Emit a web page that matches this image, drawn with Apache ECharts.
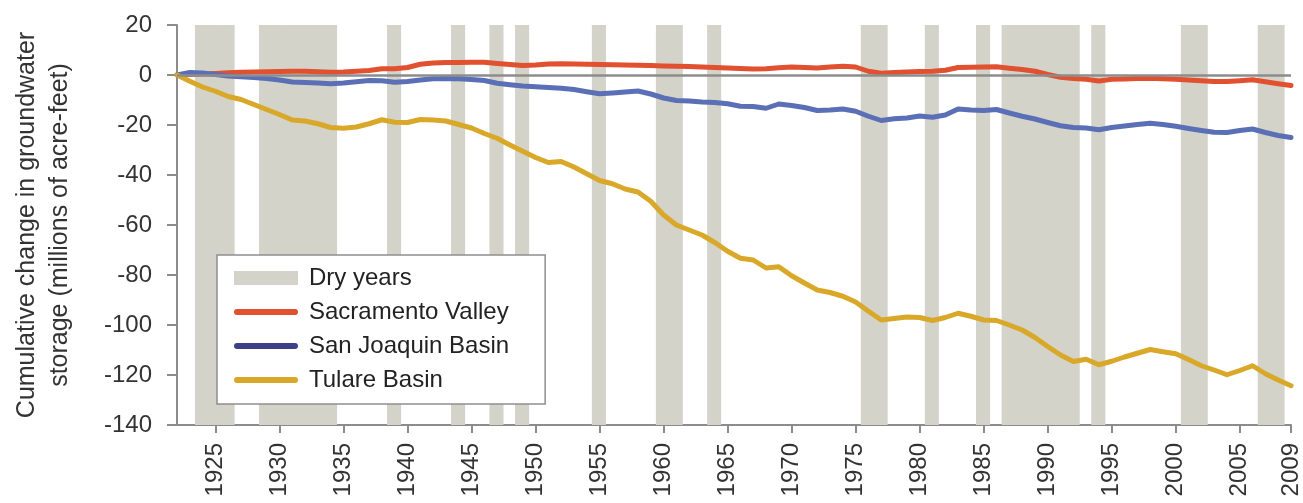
<!DOCTYPE html>
<html>
<head>
<meta charset="utf-8">
<script src="https://cdn.jsdelivr.net/npm/echarts@6/dist/echarts.min.js"></script>
<style>
html,body{margin:0;padding:0;background:#fff;}
#chart{width:1303px;height:503px;}
</style>
</head>
<body>
<div id="chart"></div>
<script>
// ---- Data (millions of acre-feet, cumulative change) ----
const years = [];
for (let y = 1922; y <= 2009; y++) years.push(y);

const sacramento = [
  0, 0.2, 0.4, 0.6, 0.9, 1.1, 1.2, 1.3, 1.4, 1.5,
  1.5, 1.3, 1.1, 1.2, 1.5, 1.8, 2.5, 2.5, 3.0, 4.3,
  4.8, 5.0, 5.0, 5.1, 5.1, 4.6, 4.2, 3.8, 4.0, 4.4,
  4.5, 4.4, 4.3, 4.2, 4.1, 4.0, 3.9, 3.8, 3.6, 3.5,
  3.4, 3.2, 3.0, 2.8, 2.6, 2.4, 2.5, 2.9, 3.2, 3.0,
  2.8, 3.2, 3.5, 3.2, 1.5, 0.7, 1.0, 1.2, 1.4, 1.5,
  1.9, 3.0, 3.1, 3.2, 3.3, 2.7, 2.2, 1.5, 0.2, -0.9,
  -1.4, -1.7, -2.4, -1.7, -1.6, -1.4, -1.3, -1.5, -1.7, -2.0,
  -2.3, -2.6, -2.6, -2.3, -1.9, -2.7, -3.5, -4.2
];

const sanJoaquin = [
  0, 1.0, 0.8, 0.2, -0.4, -0.7, -1.0, -1.4, -2.0, -2.8,
  -3.0, -3.2, -3.5, -3.2, -2.7, -2.2, -2.3, -2.9, -2.6, -2.0,
  -1.5, -1.4, -1.5, -1.8, -2.2, -3.3, -3.9, -4.4, -4.7, -5.0,
  -5.3, -5.8, -6.7, -7.5, -7.2, -6.8, -6.4, -7.6, -9.2, -10.2,
  -10.4, -10.8, -11.0, -11.5, -12.5, -12.6, -13.3, -11.6, -12.2, -13.0,
  -14.2, -14.0, -13.6, -14.5, -16.5, -18.2, -17.5, -17.2, -16.4, -16.9,
  -16.0, -13.6, -14.0, -14.2, -13.8, -15.2, -16.5, -17.6, -19.0, -20.3,
  -21.0, -21.2, -21.9, -21.0, -20.4, -19.8, -19.3, -19.8, -20.5, -21.4,
  -22.2, -22.9, -23.0, -22.2, -21.6, -23.0, -24.2, -25.0
];

const tulare = [
  0, -2.5, -4.8, -6.5, -8.6, -9.8, -11.8, -13.8, -15.8, -18.0,
  -18.4, -19.5, -21.0, -21.3, -20.8, -19.5, -17.9, -18.9, -19.0, -17.8,
  -18.0, -18.4, -19.8, -21.2, -23.4, -25.3, -28.0, -30.5, -33.0, -35.0,
  -34.6, -36.8, -39.5, -42.2, -43.5, -45.6, -46.8, -50.5, -56.0, -60.0,
  -62.0, -64.0, -67.0, -70.5, -73.3, -74.0, -77.2, -76.7, -80.3, -83.2,
  -86.0, -87.0, -88.5, -90.8, -94.5, -98.0, -97.4, -96.8, -97.0, -98.2,
  -97.0, -95.3, -96.5, -98.0, -98.2, -100.0, -102.0, -105.0, -108.6, -112.0,
  -114.6, -113.7, -115.9, -114.5, -112.8, -111.3, -109.8, -110.7, -111.5, -113.8,
  -116.3, -118.0, -119.9, -118.2, -116.3, -119.5, -122.0, -124.3
];

const dryYears = [
  1924, 1925, 1926, 1929, 1930, 1931, 1932, 1933, 1934, 1939, 1944, 1947, 1949,
  1955, 1960, 1961, 1964, 1976, 1977, 1981, 1985, 1987, 1988, 1989, 1990, 1991,
  1992, 1994, 2001, 2002, 2007, 2008
];

const xTickLabels = [1925, 1930, 1935, 1940, 1945, 1950, 1955, 1960, 1965, 1970,
  1975, 1980, 1985, 1990, 1995, 2000, 2005, 2009];

const seriesNames = ['Dry years', 'Sacramento Valley', 'San Joaquin Basin', 'Tulare Basin'];

// ---- Styling ----
const FONT = "'Liberation Sans', Arial, Helvetica, sans-serif";
const TXT = '#333333';
const AXIS = '#8c8c8c';
const DRY = '#d3d3ca';
const RED = '#e1502f';
const BLUE = '#5b6fb6';
const BLUE_LEG = '#3d4088';
const GOLD = '#d9a828';
const lineIcon = 'path://M3,0H61A3,3,0,0,1,61,6H3A3,3,0,0,1,3,0Z';

const pair = (arr) => years.map((y, i) => [y, arr[i]]);

const chart = echarts.init(document.getElementById('chart'), null, {renderer: 'canvas'});
chart.setOption({
  animation: false,
  backgroundColor: '#ffffff',
  textStyle: {fontFamily: FONT},
  grid: {left: 177, right: 11, top: 25, bottom: 78, containLabel: false},
  legend: {
    orient: 'vertical',
    left: 217,
    top: 255,
    padding: [11, 36, 12, 17],
    itemWidth: 64,
    itemHeight: 14,
    itemGap: 10,
    backgroundColor: '#ffffff',
    borderColor: '#8f8f8f',
    borderWidth: 1.5,
    textStyle: {fontSize: 24, color: '#222', fontFamily: FONT, lineHeight: 24, padding: [0, 0, 0, 6]},
    data: [
      {name: seriesNames[0], icon: 'rect', itemStyle: {color: DRY}},
      {name: seriesNames[1], icon: lineIcon, itemStyle: {color: RED}},
      {name: seriesNames[2], icon: lineIcon, itemStyle: {color: BLUE_LEG}},
      {name: seriesNames[3], icon: lineIcon, itemStyle: {color: GOLD}}
    ]
  },
  xAxis: {
    type: 'value',
    min: 1922,
    max: 2009,
    axisLine: {onZero: false, lineStyle: {color: AXIS, width: 2}},
    axisTick: {show: true, customValues: xTickLabels, length: 8, lineStyle: {color: AXIS, width: 2}},
    axisLabel: {
      customValues: xTickLabels,
      rotate: 90,
      margin: 18,
      fontSize: 24,
      color: TXT,
      fontFamily: FONT,
      formatter: (v) => String(v)
    },
    splitLine: {show: false}
  },
  yAxis: {
    type: 'value',
    min: -140,
    max: 20,
    interval: 20,
    name: 'Cumulative change in groundwater\nstorage (millions of acre-feet)',
    nameLocation: 'middle',
    nameGap: 100,
    nameTextStyle: {fontSize: 25, lineHeight: 33, color: TXT, fontFamily: FONT},
    axisLine: {show: true, lineStyle: {color: AXIS, width: 2}},
    axisTick: {show: true, length: 10, lineStyle: {color: AXIS, width: 2}},
    axisLabel: {fontSize: 24, color: TXT, margin: 25, fontFamily: FONT, padding: [0, 0, 5, 0]},
    splitLine: {show: false}
  },
  series: [
    {
      name: seriesNames[0],
      type: 'custom',
      data: dryYears.map((y) => [y]),
      encode: {x: 0},
      itemStyle: {color: DRY},
      silent: true,
      z: 1,
      renderItem: function (params, api) {
        const yr = api.value(0);
        const p0 = api.coord([yr - 0.6, 20]);
        const p1 = api.coord([yr + 0.5, -140]);
        return {
          type: 'rect',
          shape: {x: p0[0], y: p0[1], width: p1[0] - p0[0], height: p1[1] - p0[1]},
          style: {fill: DRY}
        };
      },
      markLine: {
        silent: true,
        symbol: ['none', 'none'],
        label: {show: false},
        lineStyle: {color: AXIS, width: 2.5, type: 'solid'},
        data: [{yAxis: 0}]
      }
    },
    {
      name: seriesNames[1],
      type: 'line',
      data: pair(sacramento),
      symbol: 'none',
      z: 3,
      lineStyle: {color: RED, width: 5, join: 'round', cap: 'round'},
      itemStyle: {color: RED}
    },
    {
      name: seriesNames[2],
      type: 'line',
      data: pair(sanJoaquin),
      symbol: 'none',
      z: 3,
      lineStyle: {color: BLUE, width: 5, join: 'round', cap: 'round'},
      itemStyle: {color: BLUE}
    },
    {
      name: seriesNames[3],
      type: 'line',
      data: pair(tulare),
      symbol: 'none',
      z: 3,
      lineStyle: {color: GOLD, width: 5, join: 'round', cap: 'round'},
      itemStyle: {color: GOLD}
    }
  ]
});
</script>
</body>
</html>
